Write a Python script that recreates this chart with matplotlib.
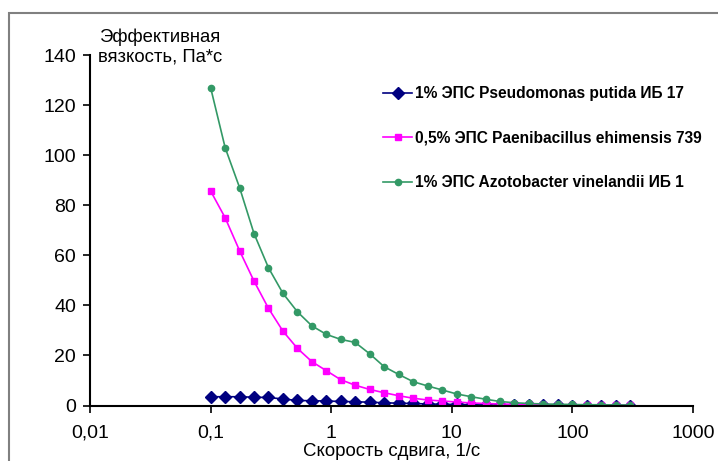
import matplotlib
matplotlib.use("Agg")
import matplotlib.pyplot as plt
from matplotlib.patches import Rectangle

# shear rate, 1/s
rate = [0.1, 0.132, 0.174, 0.229, 0.302, 0.398, 0.525, 0.692, 0.912, 1.2,
        1.58, 2.09, 2.75, 3.63, 4.79, 6.31, 8.32, 11, 14.5, 19.1,
        25.1, 33.1, 43.7, 57.5, 75.9, 100, 132, 174, 229, 302]

pseudomonas = [3.5, 3.5, 3.5, 3.3, 3.2, 2.6, 2.0, 1.9, 1.8, 1.6,
               1.5, 1.3, 1.1, 0.9, 0.8, 0.6, 0.5, 0.4, 0.3, 0.2,
               0.2, 0.1, 0.1, 0.1, 0.1, 0.0, 0.0, 0.0, 0.0, 0.0]
paenibacillus = [85.7, 75, 61.8, 49.7, 38.8, 29.7, 22.8, 17.5, 13.9, 10.3,
                 8.1, 6.4, 5.1, 3.9, 2.9, 2.2, 1.8, 1.4, 1.0, 0.8,
                 0.6, 0.5, 0.4, 0.3, 0.3, 0.2, 0.2, 0.2, 0.1, 0.1]
azotobacter = [127, 103, 87, 68.7, 55, 44.8, 37.4, 31.8, 28.4, 26.4,
               25.2, 20.6, 15.5, 12.4, 9.5, 7.8, 6.2, 4.6, 3.5, 2.5,
               1.6, 1.1, 0.8, 0.6, 0.5, 0.4, 0.3, 0.3, 0.2, 0.2]

labels = ["1% ЭПС Pseudomonas putida ИБ 17",
          "0,5% ЭПС Paenibacillus ehimensis 739",
          "1% ЭПС Azotobacter vinelandii ИБ 1"]
xticks = [0.01, 0.1, 1, 10, 100, 1000]
xtick_labels = ["0,01", "0,1", "1", "10", "100", "1000"]
yticks = [0, 20, 40, 60, 80, 100, 120, 140]


def main():
    plt.rcParams['font.family'] = ['Liberation Sans', 'DejaVu Sans']
    fig = plt.figure(figsize=(7.18, 4.61), dpi=100)
    W, H = 718, 461

    # outer chart frame (only top/left visible)
    fig.patches.append(Rectangle((9 / W, -0.1), 1.2, 1 - 13 / H + 0.1,
                                 transform=fig.transFigure, fill=False,
                                 edgecolor="#808080", linewidth=1.5))

    ax = fig.add_axes([90 / W, 1 - 405.5 / H, 603 / W, 350.5 / H])
    ax.semilogx(rate, pseudomonas, color="#000080", marker="D",
                markersize=6.5, linewidth=1.2, label=labels[0])
    ax.semilogx(rate, paenibacillus, color="#FF00FF", marker="s",
                markersize=5, linewidth=1.2, label=labels[1])
    ax.semilogx(rate, azotobacter, color="#339966", marker="o",
                markersize=4.5, linewidth=1.2, label=labels[2])

    ax.set_xlim(0.01, 1000)
    ax.set_ylim(0, 140)
    ax.set_xticks(xticks, labels=xtick_labels)
    ax.minorticks_off()
    ax.set_yticks(yticks)
    ax.tick_params(labelsize=14, direction="out", length=5, width=1.2,
                   colors="black")
    ax.tick_params(axis="x", pad=9)
    ax.tick_params(axis="y", pad=5)
    ax.spines["top"].set_visible(False)
    ax.spines["right"].set_visible(False)
    for s in ("left", "bottom"):
        ax.spines[s].set_linewidth(1.5)
    ax.patch.set_alpha(0)

    fig.text(160 / W, 1 - 47 / H, "Эффективная\nвязкость, Па*с",
             ha="center", va="center", fontsize=13.3, linespacing=1.15)
    fig.text(391.5 / W, 1.5 / H, "Скорость сдвига, 1/с",
             ha="center", va="bottom", fontsize=13.4)

    ax.legend(loc="upper left", bbox_to_anchor=(377 / W, 1 - 80 / H),
              bbox_transform=fig.transFigure, frameon=False,
              prop={"weight": "bold", "size": 11.2}, handlelength=1.85,
              handletextpad=0.2, labelspacing=1.9, borderaxespad=0)

    fig.savefig("out.png", dpi=100)
    plt.close()


if __name__ == "__main__":
    main()
